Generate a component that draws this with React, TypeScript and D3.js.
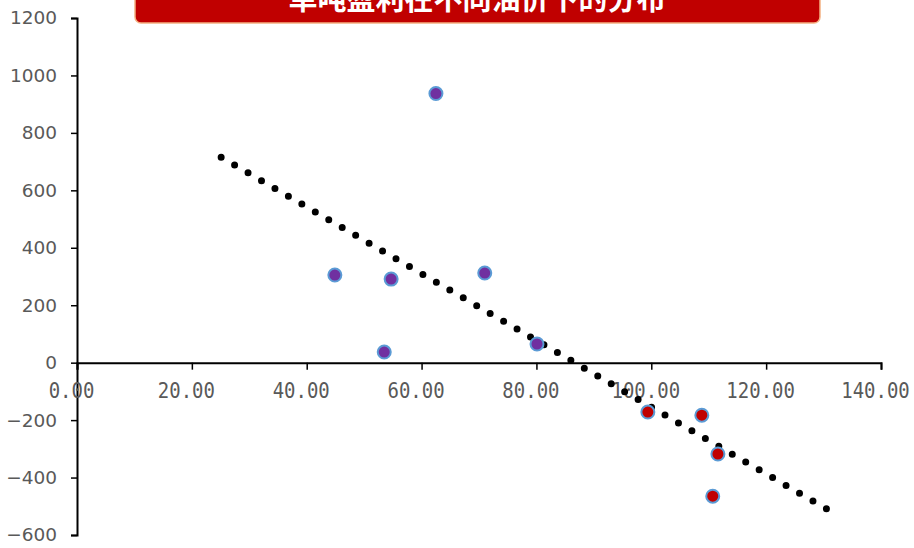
import { useEffect, useRef } from 'react';
import * as d3 from 'd3';

const title = '单吨盈利在不同油价下的分布';
// oil price (x) vs profit per ton (y)
const lowPriceX = [62.5, 44.9, 54.7, 53.5, 71.0, 80.1];
const lowPriceY = [937, 305, 291, 37, 312, 65];
const highPriceX = [99.4, 108.8, 111.6, 110.7];
const highPriceY = [-172, -183, -318, -465];
const xTicks = [0, 20, 40, 60, 80, 100, 120, 140];
const yTicks = [-600, -400, -200, 0, 200, 400, 600, 800, 1000, 1200];
const trendRange = [25.1, 130.6];

const W = 914;
const H = 548;

const App = () => {
  const ref = useRef<SVGSVGElement | null>(null);

  useEffect(() => {
    if (!ref.current) return;
    const svg = d3.select(ref.current);
    svg.selectAll('*').remove();

    const x = d3.scaleLinear().domain([0, 140]).range([77, 881]);
    const y = d3.scaleLinear().domain([-600, 1200]).range([535, 18]);

    // y axis
    const yAxis = svg
      .append('g')
      .attr('transform', `translate(${x(0)},0)`)
      .call(d3.axisLeft(y).tickValues(yTicks).tickSize(6).tickPadding(14).tickFormat(d3.format('d')));
    yAxis.select('.domain').attr('stroke', '#000').attr('stroke-width', 2);
    yAxis.selectAll('.tick line').attr('stroke', '#000').attr('stroke-width', 1.5);
    yAxis
      .selectAll('.tick text')
      .attr('fill', '#595959')
      .style('font-family', '"DejaVu Sans", sans-serif')
      .style('font-size', '18.5px')
      .text((d: any) => (d < 0 ? '\u2212' + Math.abs(d) : String(d)));

    // x axis through zero
    const xAxis = svg
      .append('g')
      .attr('transform', `translate(0,${y(0)})`)
      .call(d3.axisBottom(x).tickValues(xTicks).tickSize(7).tickPadding(8).tickFormat(d3.format('.2f')));
    xAxis.select('.domain').attr('stroke', '#000').attr('stroke-width', 2);
    xAxis.selectAll('.tick line').attr('stroke', '#000').attr('stroke-width', 1.5);
    xAxis
      .selectAll('.tick text')
      .attr('fill', '#595959')
      .attr('y', 0)
      .attr('dy', 0)
      .attr('transform', 'translate(-6,35) scale(1,1.12)')
      .style('font-family', '"DejaVu Sans Mono", monospace')
      .style('font-size', '19px');

    // linear trendline from all points
    const allX = [...lowPriceX, ...highPriceX];
    const allY = [...lowPriceY, ...highPriceY];
    const mx = d3.mean(allX) as number;
    const my = d3.mean(allY) as number;
    const sxy = d3.sum(allX, (v, i) => (v - mx) * (allY[i] - my));
    const sxx = d3.sum(allX, (v) => (v - mx) * (v - mx));
    const slope = sxy / sxx;
    const icpt = my - slope * mx;
    const ends = trendRange.map((v) => [x(v), y(icpt + slope * v)] as [number, number]);
    const len = Math.hypot(ends[1][0] - ends[0][0], ends[1][1] - ends[0][1]);
    const gap = (len / Math.round(len / 15.6)) * 0.999;
    svg
      .append('path')
      .attr('d', d3.line()(ends))
      .attr('stroke', '#000')
      .attr('stroke-width', 7)
      .attr('stroke-linecap', 'round')
      .attr('stroke-dasharray', `0 ${gap}`)
      .attr('fill', 'none');

    const drawPoints = (xs: number[], ys: number[], fill: string) => {
      svg
        .append('g')
        .selectAll('circle')
        .data(xs)
        .enter()
        .append('circle')
        .attr('cx', (d) => x(d))
        .attr('cy', (_d, i) => y(ys[i]))
        .attr('r', 6.5)
        .attr('fill', fill)
        .attr('stroke', '#5B9BD5')
        .attr('stroke-width', 2);
    };
    drawPoints(lowPriceX, lowPriceY, '#7030A0');
    drawPoints(highPriceX, highPriceY, '#C00000');

    // title banner (cut at top)
    svg
      .append('rect')
      .attr('x', 135)
      .attr('y', -20)
      .attr('width', 685)
      .attr('height', 43)
      .attr('rx', 6)
      .attr('fill', '#C00000')
      .attr('stroke', '#F4B183')
      .attr('stroke-width', 1.5);
    svg
      .append('text')
      .attr('x', 477)
      .attr('y', 10)
      .attr('text-anchor', 'middle')
      .attr('fill', '#fff')
      .style('font-family', '"Noto Sans CJK SC", sans-serif')
      .style('font-weight', 'bold')
      .style('font-size', '29px')
      .text(title);
  }, []);

  return (
    <div style={{ position: 'fixed', left: 0, top: 0 }}>
      <svg ref={ref} width={W} height={H} style={{ display: 'block', background: '#fff' }} />
    </div>
  );
};

export default App;
